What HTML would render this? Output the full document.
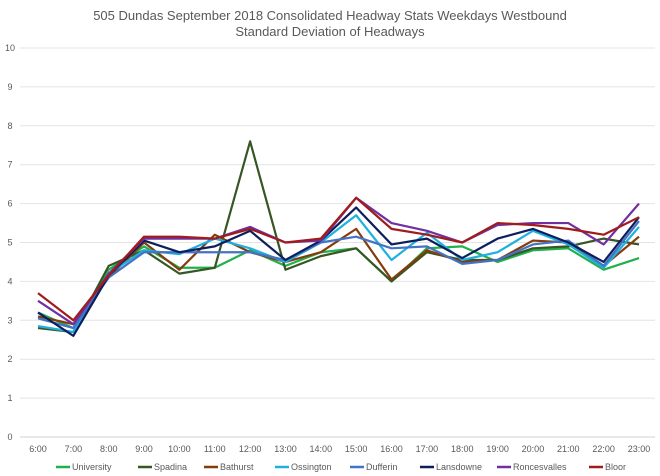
<!DOCTYPE html>
<html><head><meta charset="utf-8"><style>
body{margin:0;background:#fff;font-family:"Liberation Sans",sans-serif}
svg{display:block}
</style></head><body>
<svg id="chart" width="660" height="476" xmlns="http://www.w3.org/2000/svg">
<text x="330" y="20" text-anchor="middle" font-size="13" fill="#595959" font-family="Liberation Sans, sans-serif">505 Dundas   September 2018  Consolidated Headway Stats Weekdays Westbound</text>
<text x="330" y="36" text-anchor="middle" font-size="13" fill="#595959" font-family="Liberation Sans, sans-serif">Standard Deviation of Headways</text>
<g id="grid"></g><g id="series"></g><g id="legend"></g>
</svg>
<script>
const categories=["6:00","7:00","8:00","9:00","10:00","11:00","12:00","13:00","14:00","15:00","16:00","17:00","18:00","19:00","20:00","21:00","22:00","23:00"];
const yTicks=[0,1,2,3,4,5,6,7,8,9,10];
const seriesNames=["University","Spadina","Bathurst","Ossington","Dufferin","Lansdowne","Roncesvalles","Bloor"];
const seriesColors=["#21b04b","#375623","#843c0c","#1fb0e0","#4472c4","#0c1f5c","#7030a0","#a01c1c"];
const university=[3.2,2.8,4.3,4.9,4.35,4.35,4.8,4.4,4.75,4.85,4.0,4.85,4.9,4.5,4.8,4.85,4.3,4.6];
const spadina=[2.8,2.7,4.4,4.8,4.2,4.35,7.6,4.3,4.65,4.85,4.0,4.75,4.55,4.55,4.85,4.9,5.1,4.95];
const bathurst=[3.1,2.9,4.1,5.0,4.3,5.2,4.75,4.5,4.75,5.35,4.05,4.8,4.5,4.55,5.05,5.0,4.4,5.15];
const ossington=[2.85,2.7,4.2,4.8,4.7,5.1,4.85,4.5,5.0,5.7,4.55,5.25,4.55,4.75,5.3,4.95,4.35,5.4];
const dufferin=[3.05,2.8,4.1,4.75,4.75,4.75,4.75,4.55,5.0,5.15,4.85,4.9,4.45,4.55,4.95,5.05,4.4,5.55];
const lansdowne=[3.2,2.6,4.15,5.05,4.75,4.9,5.3,4.55,5.05,5.9,4.95,5.1,4.6,5.1,5.35,5.0,4.5,5.65];
const roncesvalles=[3.5,2.9,4.2,5.1,5.1,5.1,5.4,5.0,5.05,6.15,5.5,5.3,5.0,5.45,5.5,5.5,4.95,6.0];
const bloor=[3.7,3.0,4.15,5.15,5.15,5.1,5.35,5.0,5.1,6.15,5.35,5.2,5.0,5.5,5.45,5.35,5.2,5.65];
const allSeries=[university,spadina,bathurst,ossington,dufferin,lansdowne,roncesvalles,bloor];

const NS="http://www.w3.org/2000/svg";
const x0=38,x1=639,yBase=437,yTop=48;
const xs=i=>x0+i*(x1-x0)/(categories.length-1);
const ys=v=>yBase-v*(yBase-yTop)/10;
function mk(tag,attrs,parent){const e=document.createElementNS(NS,tag);for(const k in attrs)e.setAttribute(k,attrs[k]);parent.appendChild(e);return e;}
const grid=document.getElementById('grid'),ser=document.getElementById('series'),leg=document.getElementById('legend');
yTicks.forEach(t=>{
  const l=mk('line',{x1:20,x2:655,y1:ys(t),y2:ys(t),stroke:t===0?'#d0d0d0':'#e4e4e4','stroke-width':1},grid);
  
  
  const tx=mk('text',{x:10,y:ys(t)+3,'text-anchor':'middle','font-size':9,fill:'#595959'},grid);
  tx.textContent=t;
  
  
});
categories.forEach((c,i)=>{
  const tx=mk('text',{x:xs(i),y:452,'text-anchor':'middle','font-size':9,fill:'#595959'},grid);
  tx.textContent=c;
  
  
});
allSeries.forEach((d,s)=>{
  const p=mk('polyline',{points:d.map((v,i)=>xs(i)+','+ys(v)).join(' '),fill:'none',stroke:seriesColors[s],'stroke-width':2.2,'stroke-linejoin':'round'},ser);
  
  
});
const legX=[56,138,204,275,350,420,497,589];
seriesNames.forEach((n,s)=>{
  const g=mk('g',{},leg);
  
  
  mk('line',{x1:legX[s],x2:legX[s]+14,y1:467,y2:467,stroke:seriesColors[s],'stroke-width':2.5},g);
  const t=mk('text',{x:legX[s]+16,y:470,'font-size':9,fill:'#595959'},g);
  t.textContent=n;
});
</script>
</body></html>
